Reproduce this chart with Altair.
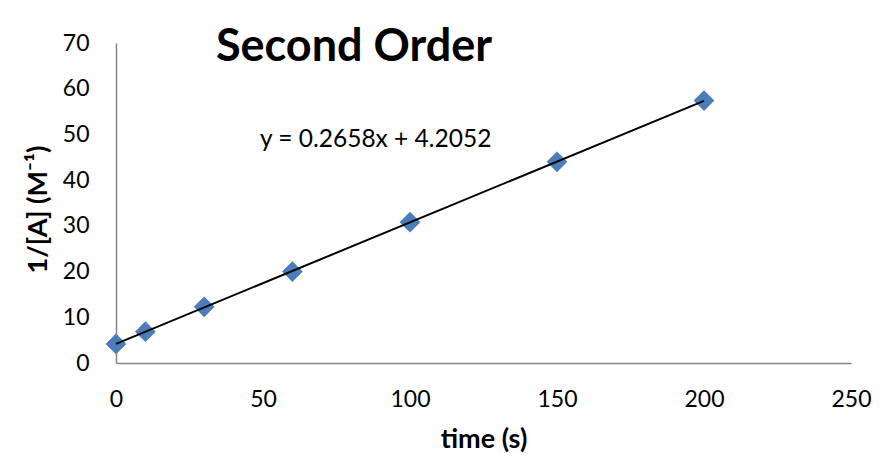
import altair as alt
import pandas as pd

time_s = [0, 10, 30, 60, 100, 150, 200]
inv_conc = [4.16, 6.85, 12.3, 20.0, 30.8, 44.0, 57.4]
x_ticks = [0, 50, 100, 150, 200, 250]
y_ticks = [0, 10, 20, 30, 40, 50, 60, 70]
title_text = "Second Order"
equation_text = "y = 0.2658x + 4.2052"
x_title = "time (s)"
y_title = "1/[A] (M⁻¹)"

df = pd.DataFrame({"t": time_s, "inv": inv_conc})

FONT = "Lato, DejaVu Sans, sans-serif"
AXIS_GRAY = "#868686"

x_enc = alt.X(
    "t:Q",
    scale=alt.Scale(domain=[0, 250], nice=False),
    axis=alt.Axis(
        values=x_ticks, grid=False, ticks=False, tickSize=0,
        domainColor=AXIS_GRAY, domainWidth=1.5, labelFlush=False,
        labelFont=FONT, labelFontSize=23, labelColor="#000000",
        labelPadding=25, labelBaseline="top",
        title=x_title, titleFont=FONT, titleFontSize=27, titleFontWeight="bold",
        titleColor="#000000", titleY=84, titleBaseline="alphabetic",
    ),
)
y_enc = alt.Y(
    "inv:Q",
    scale=alt.Scale(domain=[0, 70], nice=False),
    axis=alt.Axis(
        values=y_ticks, grid=False, ticks=False, tickSize=0,
        domainColor=AXIS_GRAY, domainWidth=1.5, labelFlush=False,
        labelFont=FONT, labelFontSize=23, labelColor="#000000",
        labelPadding=27,
        title=y_title, titleFont=FONT, titleFontSize=27, titleFontWeight="bold",
        titleColor="#000000", titleX=-70, titleY=166, titleBaseline="alphabetic",
        titleAngle=270,
    ),
)

base = alt.Chart(df)

points = base.mark_point(
    shape="diamond", filled=True, size=430, color="#4A7EBB", opacity=1
).encode(x=x_enc, y=y_enc)

trend = base.transform_regression("t", "inv").mark_line(
    color="#000000", strokeWidth=2
).encode(x=alt.X("t:Q"), y=alt.Y("inv:Q"))

title_mark = alt.Chart(pd.DataFrame({"label": [title_text]})).mark_text(
    font=FONT, fontSize=45, fontWeight="bold", color="#000000",
    align="center", baseline="alphabetic"
).encode(text="label:N", x=alt.value(238), y=alt.value(18))

eq_mark = alt.Chart(pd.DataFrame({"label": [equation_text]})).mark_text(
    font=FONT, fontSize=24.5, color="#000000",
    align="left", baseline="alphabetic"
).encode(text="label:N", x=alt.value(144), y=alt.value(104))

chart = alt.layer(points, trend, title_mark, eq_mark).properties(
    width=735, height=320,
    background="#ffffff",
    autosize=alt.AutoSizeParams(type="none"),
    padding={"left": 108, "top": 35, "right": 30, "bottom": 95},
).configure_view(strokeWidth=0, stroke="transparent")

chart.save("out.html", embed_options={"renderer": "svg", "actions": False})
